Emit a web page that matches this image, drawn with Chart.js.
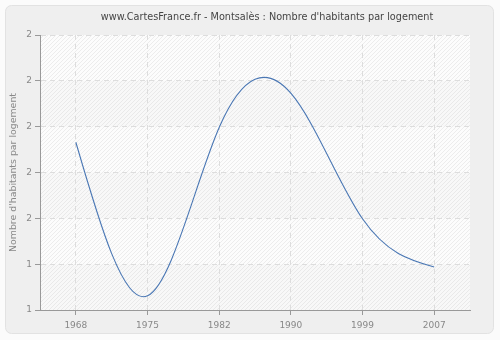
<!DOCTYPE html>
<html>
<head>
<meta charset="utf-8">
<script src="https://cdn.jsdelivr.net/npm/chart.js@4"></script>
<style>
  html, body { margin: 0; padding: 0; background: #ffffff; }
  #wrap { width: 500px; height: 340px; position: relative; }
</style>
</head>
<body>
<div id="wrap"><canvas id="chart" width="500" height="340"></canvas></div>
<script>
const years = ['1968', '1975', '1982', '1990', '1999', '2007'];
const habitants = [1.666, 1.331, 1.698, 1.773, 1.499, 1.394];
const yMin = 1.3;
const yMax = 1.9;
const yStep = 0.1;
const chartTitle = "www.CartesFrance.fr - Montsalès : Nombre d'habitants par logement";
const yTitle = "Nombre d'habitants par logement";

const FONT = "'DejaVu Sans', sans-serif";

// frame, plot background with hatching, title
const decor = {
    id: 'decor',
    beforeDraw(chart) {
        const ctx = chart.ctx;
        const a = chart.chartArea;
        ctx.save();
        ctx.fillStyle = '#fbfbfb';
        ctx.fillRect(0, 0, chart.width, chart.height);
        ctx.beginPath();
        ctx.roundRect(5.5, 5.5, 488, 328, 6);
        ctx.fillStyle = '#efefef';
        ctx.fill();
        ctx.strokeStyle = '#e2e2e2';
        ctx.lineWidth = 1;
        ctx.stroke();

        ctx.fillStyle = '#ffffff';
        ctx.fillRect(a.left, a.top, a.right - a.left, a.bottom - a.top);

        // alternate bands
        const ys = chart.scales.y;
        const ticks = ys.ticks;
        for (let i = 0; i < ticks.length - 1; i++) {
            const y1 = ys.getPixelForValue(ticks[i].value);
            const y2 = ys.getPixelForValue(ticks[i + 1].value);
            ctx.fillStyle = (i % 2 === 0) ? '#f8f8f8' : '#fcfcfc';
            ctx.fillRect(a.left, Math.min(y1, y2), a.right - a.left, Math.abs(y1 - y2));
        }

        // hatching
        ctx.beginPath();
        ctx.rect(a.left, a.top, a.right - a.left, a.bottom - a.top);
        ctx.clip();
        ctx.strokeStyle = 'rgba(200,200,200,0.3)';
        ctx.lineWidth = 1;
        ctx.beginPath();
        const h = a.bottom - a.top;
        for (let x = a.left - h; x < a.right; x += 4) {
            ctx.moveTo(x, a.bottom);
            ctx.lineTo(x + h, a.top);
        }
        ctx.stroke();
        ctx.restore();

        ctx.save();
        ctx.fillStyle = '#444444';
        ctx.font = '9.7px ' + FONT;
        ctx.textAlign = 'center';
        ctx.textBaseline = 'middle';
        ctx.fillText(chartTitle, 267, 17);
        ctx.restore();
    }
};

// natural cubic spline through the dataset points (control points of the bezier segments)
const naturalSpline = {
    id: 'naturalSpline',
    beforeDatasetDraw(chart, args) {
        const meta = args.meta;
        const pts = meta.data;
        const n = pts.length - 1;
        if (n < 2) return;
        const y = pts.map(p => p.y);
        // second derivatives (per index step), natural ends
        const M = new Array(n + 1).fill(0);
        const c = new Array(n + 1).fill(0);
        const d = new Array(n + 1).fill(0);
        for (let i = 1; i < n; i++) {
            const rhs = 6 * (y[i + 1] - 2 * y[i] + y[i - 1]);
            const m = 4 - (i > 1 ? c[i - 1] : 0);
            c[i] = 1 / m;
            d[i] = (rhs - (i > 1 ? d[i - 1] : 0)) / m;
        }
        for (let i = n - 1; i >= 1; i--) {
            M[i] = d[i] - c[i] * M[i + 1];
        }
        for (let i = 0; i <= n; i++) {
            let D;
            if (i < n) D = (y[i + 1] - y[i]) - (2 * M[i] + M[i + 1]) / 6;
            else D = (y[n] - y[n - 1]) + (M[n - 1] + 2 * M[n]) / 6;
            const p = pts[i];
            const hPrev = i > 0 ? (p.x - pts[i - 1].x) : 0;
            const hNext = i < n ? (pts[i + 1].x - p.x) : 0;
            p.cp1x = p.x - hPrev / 3;
            p.cp1y = p.y - D / 3;
            p.cp2x = p.x + hNext / 3;
            p.cp2y = p.y + D / 3;
        }
        meta.dataset._pointsUpdated = true;
        meta.dataset._path = undefined;
    }
};

new Chart(document.getElementById('chart'), {
    type: 'line',
    data: {
        labels: years,
        datasets: [{
            data: habitants,
            borderColor: '#4a77b4',
            borderWidth: 1.1,
            pointRadius: 0,
            pointHoverRadius: 0,
            fill: false,
            tension: 0.4
        }]
    },
    options: {
        responsive: false,
        animation: false,
        devicePixelRatio: 1,
        layout: { padding: { left: 0, right: 30, top: 35, bottom: 0 } },
        plugins: {
            legend: { display: false },
            tooltip: { enabled: false },
            title: { display: false }
        },
        scales: {
            x: {
                offset: true,
                grid: {
                    color: '#dddddd',
                    lineWidth: 1,
                    tickLength: 5,
                    tickColor: '#999999',
                    tickBorderDash: [],
                    offset: false
                },
                border: { color: '#999999', width: 1, dash: [5, 4] },
                ticks: {
                    color: '#888888',
                    font: { family: FONT, size: 9 },
                    padding: 5,
                    maxRotation: 0,
                    autoSkip: false
                },
                afterFit(scale) { scale.height = 30; }
            },
            y: {
                min: yMin,
                max: yMax,
                grid: {
                    color: '#dddddd',
                    tickLength: 5,
                    tickColor: '#999999',
                    tickBorderDash: []
                },
                border: { color: '#999999', width: 1, dash: [5, 4] },
                ticks: {
                    stepSize: yStep,
                    color: '#888888',
                    font: { family: FONT, size: 9 },
                    padding: 3,
                    callback: v => Math.round(v).toString()
                },
                title: {
                    display: true,
                    text: yTitle,
                    color: '#888888',
                    font: { family: FONT, size: 9.4 },
                    padding: { top: 8, bottom: 0 }
                },
                afterFit(scale) { scale.width = 40; }
            }
        }
    },
    plugins: [decor, naturalSpline]
});
</script>
</body>
</html>
